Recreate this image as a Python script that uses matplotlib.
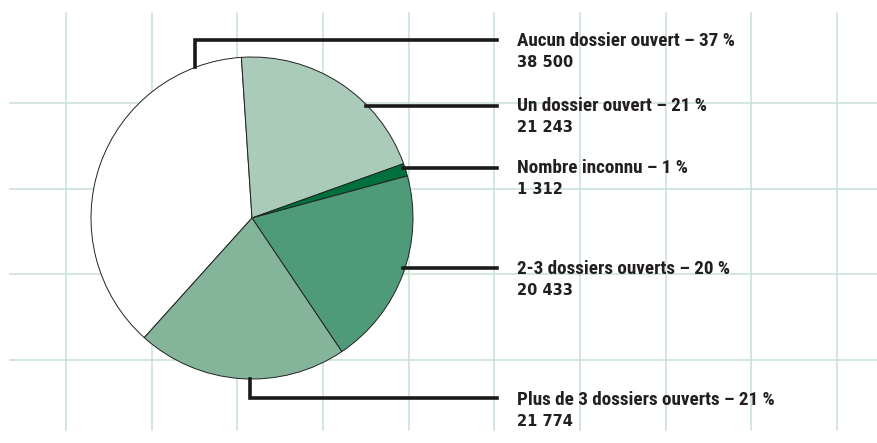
import matplotlib
matplotlib.use("Agg")
import matplotlib.pyplot as plt
from matplotlib import font_manager
import numpy as np

categories = ["Aucun dossier ouvert", "Un dossier ouvert", "Nombre inconnu",
              "2-3 dossiers ouverts", "Plus de 3 dossiers ouverts"]
values = [38500, 21243, 1312, 20433, 21774]
percents = [37, 21, 1, 20, 21]
value_labels = ["38 500", "21 243", "1 312", "20 433", "21 774"]
colors = ["#ffffff", "#aacbb9", "#00703c", "#4f9a78", "#84b59b"]

# pick a condensed bold font if available
names = {f.name for f in font_manager.fontManager.ttflist}
label_family = None
label_stretch = "normal"
for cand in ["Liberation Sans Narrow", "Roboto Condensed", "Open Sans Condensed", "DejaVu Sans Condensed"]:
    if cand in names:
        label_family = cand
        break
if label_family is None:
    cands = [f for f in font_manager.fontManager.ttflist
             if "ondensed" in f.fname or "Narrow" in f.fname]
    if cands:
        label_family = cands[0].name
        label_stretch = "condensed"
    else:
        label_family = "DejaVu Sans"
        label_stretch = "condensed"

W, H = 878, 443
fig = plt.figure(figsize=(W / 100, H / 100), dpi=100)
ax = fig.add_axes([0, 0, 1, 1])

def py(y):
    return H - y

grid_c = "#c9e0d3"
for x in np.arange(66, 840, 85.65):
    ax.plot([x, x], [py(13), py(430)], color=grid_c, lw=1.1, zorder=0)
for y in [103, 189, 274, 360]:
    ax.plot([10, W], [py(y), py(y)], color=grid_c, lw=1.1, zorder=0)

cx, cy, r = 252, py(218), 161
ax.pie(values, colors=colors, startangle=228, counterclock=False,
       center=(cx, cy), radius=r,
       wedgeprops=dict(edgecolor="#222222", linewidth=0.7), frame=True)
ax.set_xlim(0, W)
ax.set_ylim(0, H)
ax.set_aspect("equal")
ax.axis("off")

lc = "#1a1a1a"
lw = 2.6
xend = 497
x0 = 195
y_edge = cy + np.sqrt(r**2 - (x0 - cx) ** 2)
ax.plot([x0, x0, xend], [y_edge, py(40), py(40)], color=lc, lw=lw,
        solid_joinstyle="miter", zorder=5)
for yy in [106, 168, 268]:
    yd = py(yy)
    xe = cx + np.sqrt(max(r**2 - (yd - cy) ** 2, 0))
    ax.plot([xe - 2, xend], [yd, yd], color=lc, lw=lw, zorder=1)
x0 = 250
y_edge = cy - np.sqrt(r**2 - (x0 - cx) ** 2)
ax.plot([x0, x0, xend], [y_edge, py(398), py(398)], color=lc, lw=lw,
        solid_joinstyle="miter", zorder=5)

label_y = [41, 106, 168, 269, 400]
for cat, p, v, yy in zip(categories, percents, value_labels, label_y):
    ax.text(517, py(yy), f"{cat} \u2013 {p} %", fontsize=13.8, fontweight="heavy",
            family=[label_family, "DejaVu Sans"], fontstretch=label_stretch,
            color="#231f20", va="center", ha="left")
    ax.text(517, py(yy + 21.5), v, fontsize=10.5, fontweight="bold",
            family=["DejaVu Sans"], color="#231f20", va="center", ha="left")

fig.savefig("out.png", dpi=100)
